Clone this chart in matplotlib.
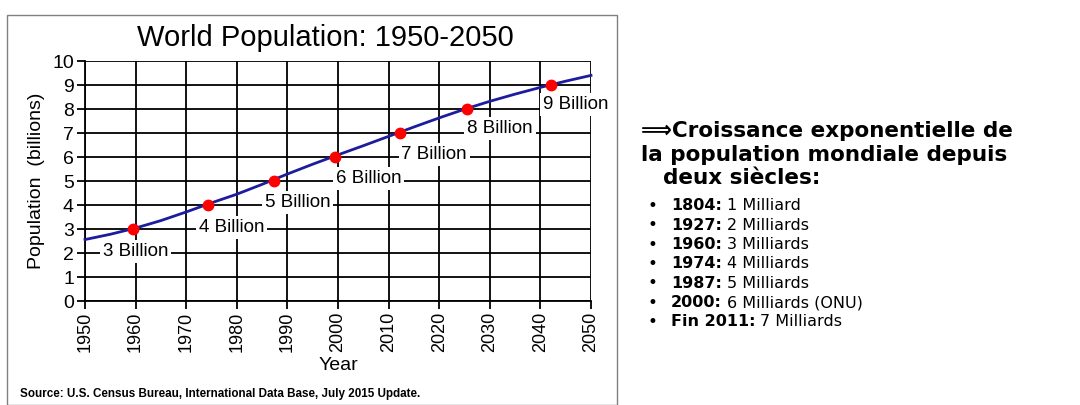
import matplotlib
matplotlib.use('Agg')
import matplotlib.pyplot as plt
from matplotlib.patches import Rectangle

# world population curve (billions)
years = [1950, 1955, 1960, 1965, 1970, 1975, 1980, 1985, 1990, 1995, 2000,
         2005, 2010, 2015, 2020, 2025, 2030, 2035, 2040, 2045, 2050]
pop = [2.56, 2.78, 3.04, 3.35, 3.71, 4.09, 4.45, 4.86, 5.29, 5.70, 6.09,
       6.47, 6.86, 7.25, 7.63, 7.99, 8.32, 8.62, 8.90, 9.16, 9.40]

# milestones
mile_years = [1959.5, 1974.3, 1987.3, 1999.5, 2012.2, 2025.5, 2042.0]
mile_pop = [3, 4, 5, 6, 7, 8, 9]
mile_labels = ["3 Billion", "4 Billion", "5 Billion", "6 Billion",
               "7 Billion", "8 Billion", "9 Billion"]
label_x = [1960.0, 1979.0, 1992.0, 2006.0, 2019.0, 2032.0, 2047.0]
label_y = [2.05, 3.05, 4.1, 5.1, 6.1, 7.2, 8.2]

notes_years = ["1804", "1927", "1960", "1974", "1987", "2000", "Fin 2011"]
notes_vals = ["1 Milliard", "2 Milliards", "3 Milliards", "4 Milliards",
              "5 Milliards", "6 Milliards (ONU)", "7 Milliards"]

plt.rcParams['font.family'] = ['Liberation Sans', 'DejaVu Sans']

fig = plt.figure(figsize=(10.8, 4.05), dpi=100)
fig.patch.set_facecolor('white')
W, H = 1080.0, 405.0

# grey frame round the chart
fig.patches.append(Rectangle((7 / W, 0), 610 / W, 1 - 15 / H, transform=fig.transFigure,
                             fill=False, edgecolor='#808080', linewidth=1.0))

ax = fig.add_axes([85 / W, 1 - 301 / H, 506 / W, 240 / H])
ax.set_xlim(1950, 2050)
ax.set_ylim(0, 10)
ax.set_xticks(range(1950, 2051, 10))
ax.set_yticks(range(0, 11))
ax.grid(True, color='black', linewidth=1.3)
for s in ['top', 'right']:
    ax.spines[s].set_visible(False)
for s in ['left', 'bottom']:
    ax.spines[s].set_linewidth(1.3)
ax.tick_params(axis='both', length=6, width=1.3, pad=2)
ax.tick_params(axis='x', labelrotation=90, labelsize=13)
ax.tick_params(axis='y', labelsize=14)

ax.plot(years, pop, color='#1c1c9c', linewidth=2, zorder=3, clip_on=False)
ax.plot(mile_years, mile_pop, 'o', color='#ff0000', markersize=7.5, zorder=4)

for lx, ly, t in zip(label_x, label_y, mile_labels):
    ax.text(lx, ly, t, ha='center', va='center', fontsize=13.5, zorder=5,
            bbox=dict(facecolor='white', edgecolor='none', pad=2), clip_on=False)

ax.set_xlabel("Year", fontsize=14, labelpad=3)
ax.set_ylabel("Population  (billions)", fontsize=14, labelpad=5)
fig.text(325 / W, 1 - 38 / H, "World Population: 1950-2050", ha='center', va='center',
         fontsize=21)
fig.text(20 / W, 1 - 394 / H, "Source: U.S. Census Bureau, International Data Base, July 2015 Update.",
         ha='left', va='center', fontsize=8.4, fontweight='bold')

# right-hand notes
rt = dict(family='DejaVu Sans', fontweight='bold', fontsize=15.5, va='center')
fig.text(641 / W, 1 - 131 / H, "\u27f9Croissance exponentielle de", ha='left', **rt)
fig.text(641 / W, 1 - 155 / H, "la population mondiale depuis", ha='left', **rt)
fig.text(663 / W, 1 - 178 / H, "deux siècles:", ha='left', **rt)
fig.canvas.draw()
for i, (y, v) in enumerate(zip(notes_years, notes_vals)):
    yy = 1 - (206 + i * 19.3) / H
    fig.text(648 / W, yy, "\u2022", ha='left', va='center', fontsize=12, family='DejaVu Sans')
    t = fig.text(671 / W, yy, y + ":", ha='left', va='center', fontsize=11.5,
                 family='DejaVu Sans', fontweight='bold')
    bb = t.get_window_extent(renderer=fig.canvas.get_renderer())
    fig.text(bb.x1 / W + 5 / W, yy, v, ha='left', va='center', fontsize=11.5,
             family='DejaVu Sans')

fig.savefig('out.png', dpi=100)
